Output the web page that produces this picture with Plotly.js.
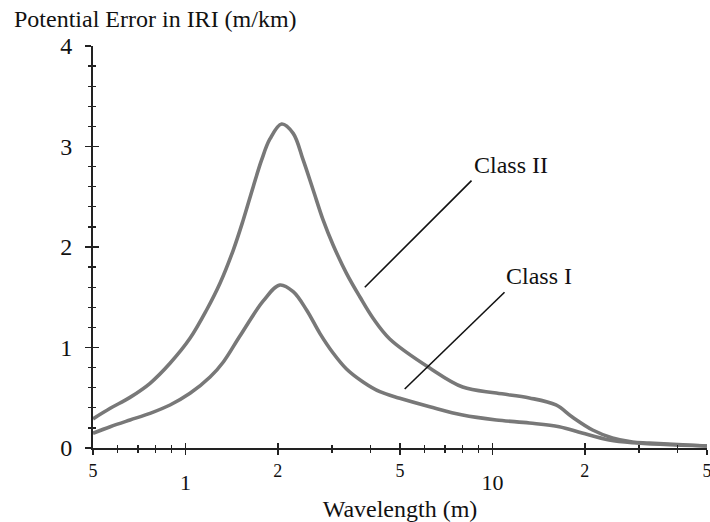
<!DOCTYPE html>
<html>
<head>
<meta charset="utf-8">
<script src="https://cdn.plot.ly/plotly-3.0.1.min.js"></script>
<style>html,body{margin:0;padding:0;background:#fff;}#chart{width:710px;height:522px;}</style>
</head>
<body>
<div id="chart"></div>
<script>
// Wavelength (m) and potential error in IRI (m/km)
const classIIx = [0.5, 0.569, 0.660, 0.767, 0.891, 1.035, 1.172, 1.296, 1.432, 1.543, 1.663, 1.771, 1.885, 2.058, 2.244, 2.418, 2.607, 2.808, 3.027, 3.347, 3.698, 4.085, 4.63, 6.25, 8.0, 10.3, 13.2, 16.1, 18.2, 21.2, 24.6, 28.6, 32.4, 50];
const classIIy = [0.29, 0.395, 0.504, 0.644, 0.843, 1.091, 1.373, 1.639, 1.970, 2.269, 2.600, 2.866, 3.075, 3.224, 3.131, 2.866, 2.567, 2.269, 2.020, 1.738, 1.505, 1.291, 1.085, 0.796, 0.607, 0.547, 0.498, 0.428, 0.308, 0.179, 0.10, 0.06, 0.05, 0.02];
const classIx = [0.5, 0.569, 0.660, 0.767, 0.891, 1.035, 1.203, 1.329, 1.505, 1.793, 2.031, 2.244, 2.481, 2.741, 3.027, 3.347, 3.79, 4.30, 4.99, 6.25, 8.0, 10.3, 13.2, 16.5, 19.6, 24.0, 28.6, 50];
const classIy = [0.147, 0.212, 0.279, 0.345, 0.428, 0.544, 0.706, 0.856, 1.114, 1.463, 1.622, 1.555, 1.373, 1.141, 0.945, 0.786, 0.657, 0.560, 0.495, 0.411, 0.328, 0.279, 0.249, 0.212, 0.149, 0.080, 0.053, 0.02];

// leader lines for labels
const leaderIIx = [3.84, 8.55], leaderIIy = [1.60, 2.66];
const leaderIx = [5.18, 10.95], leaderIy = [0.587, 1.55];
const labelII = {text: 'Class II', x: 11.46, y: 2.82};
const labelI = {text: 'Class I', x: 14.2, y: 1.71};

// axis ticks
const xMajor = [0.5, 1, 2, 5, 10, 20, 50];
const xSmallText = ['5', '', '2', '5', '', '2', '5'];
const xBigText = ['', '1', '', '', '10', '', ''];
const xMinor = [0.6, 0.7, 0.8, 0.9, 3, 4, 6, 7, 8, 9, 30, 40];
const yMajor = [0, 1, 2, 3, 4];
const yMinor = [0.2, 0.4, 0.6, 0.8, 1.2, 1.4, 1.6, 1.8, 2.2, 2.4, 2.6, 2.8, 3.2, 3.4, 3.6, 3.8];

const FONT = 'Liberation Serif, Times New Roman, serif';
const TXT = '#111';
const AX = '#222';
const curveColor = '#787878';

const traces = [
  {x: classIIx, y: classIIy, mode: 'lines', line: {color: curveColor, width: 3.6, shape: 'spline', smoothing: 1}, hoverinfo: 'skip'},
  {x: classIx, y: classIy, mode: 'lines', line: {color: curveColor, width: 3.6, shape: 'spline', smoothing: 1}, hoverinfo: 'skip'},
  {x: leaderIIx, y: leaderIIy, mode: 'lines', line: {color: '#111', width: 1.6}, hoverinfo: 'skip'},
  {x: leaderIx, y: leaderIy, mode: 'lines', line: {color: '#111', width: 1.6}, hoverinfo: 'skip'},
  {x: [], y: [], xaxis: 'x2', yaxis: 'y2', mode: 'lines', hoverinfo: 'skip'}
];

const xr = [Math.log10(0.5), Math.log10(50)];
const layout = {
  width: 710, height: 522,
  margin: {l: 93, r: 3, t: 46, b: 74},
  paper_bgcolor: '#fff', plot_bgcolor: '#fff',
  showlegend: false,
  font: {family: FONT, color: TXT},
  title: {text: 'Potential Error in IRI (m/km)', x: 14/710, xanchor: 'left', xref: 'container',
          y: 1 - 19/522, yanchor: 'middle', yref: 'container', font: {family: FONT, size: 24, color: TXT}},
  xaxis: {
    type: 'log', range: xr, showgrid: false, zeroline: false,
    showline: true, linecolor: AX, linewidth: 2,
    tickmode: 'array', tickvals: xMajor, ticktext: xSmallText,
    ticks: 'outside', ticklen: 5, tickwidth: 1.5, tickcolor: AX,
    tickfont: {family: FONT, size: 18, color: TXT}, ticklabelstandoff: 0, ticklabeloverflow: 'allow',
    minor: {tickmode: 'array', tickvals: xMinor, ticks: 'outside', ticklen: 3, tickwidth: 1.3, tickcolor: AX, showgrid: false},
    title: {text: 'Wavelength (m)', font: {family: FONT, size: 24, color: TXT}, standoff: 22},
    automargin: false, fixedrange: true
  },
  xaxis2: {
    type: 'log', range: xr, overlaying: 'x', anchor: 'y', side: 'bottom',
    showgrid: false, zeroline: false, showline: false,
    tickmode: 'array', tickvals: xMajor, ticktext: xBigText,
    ticks: 'inside', ticklen: 5, tickwidth: 1.5, tickcolor: AX,
    tickfont: {family: FONT, size: 22, color: TXT}, ticklabelstandoff: 19,
    minor: {tickmode: 'array', tickvals: xMinor, ticks: 'inside', ticklen: 3, tickwidth: 1.3, tickcolor: AX, showgrid: false},
    automargin: false, fixedrange: true
  },
  yaxis: {
    range: [0, 4], showgrid: false, zeroline: false,
    showline: true, linecolor: AX, linewidth: 2,
    tickmode: 'array', tickvals: yMajor,
    ticks: 'outside', ticklen: 6, tickwidth: 1.5, tickcolor: AX,
    tickfont: {family: FONT, size: 24, color: TXT}, ticklabelstandoff: 8,
    minor: {tickmode: 'array', tickvals: yMinor, ticks: 'outside', ticklen: 3, tickwidth: 1.3, tickcolor: AX, showgrid: false},
    automargin: false, fixedrange: true
  },
  yaxis2: {
    range: [0, 4], overlaying: 'y', anchor: 'x', side: 'left',
    showgrid: false, zeroline: false, showline: false,
    tickmode: 'array', tickvals: yMajor, showticklabels: false,
    ticks: 'inside', ticklen: 6, tickwidth: 1.5, tickcolor: AX,
    minor: {tickmode: 'array', tickvals: yMinor, ticks: 'inside', ticklen: 3, tickwidth: 1.3, tickcolor: AX, showgrid: false},
    automargin: false, fixedrange: true
  },
  annotations: [
    {text: labelII.text, x: Math.log10(labelII.x), y: labelII.y, xref: 'x', yref: 'y', showarrow: false,
     font: {family: FONT, size: 24, color: TXT}, xanchor: 'center', yanchor: 'middle'},
    {text: labelI.text, x: Math.log10(labelI.x), y: labelI.y, xref: 'x', yref: 'y', showarrow: false,
     font: {family: FONT, size: 24, color: TXT}, xanchor: 'center', yanchor: 'middle'}
  ]
};

Plotly.newPlot('chart', traces, layout, {staticPlot: true, displayModeBar: false});
</script>
</body>
</html>
